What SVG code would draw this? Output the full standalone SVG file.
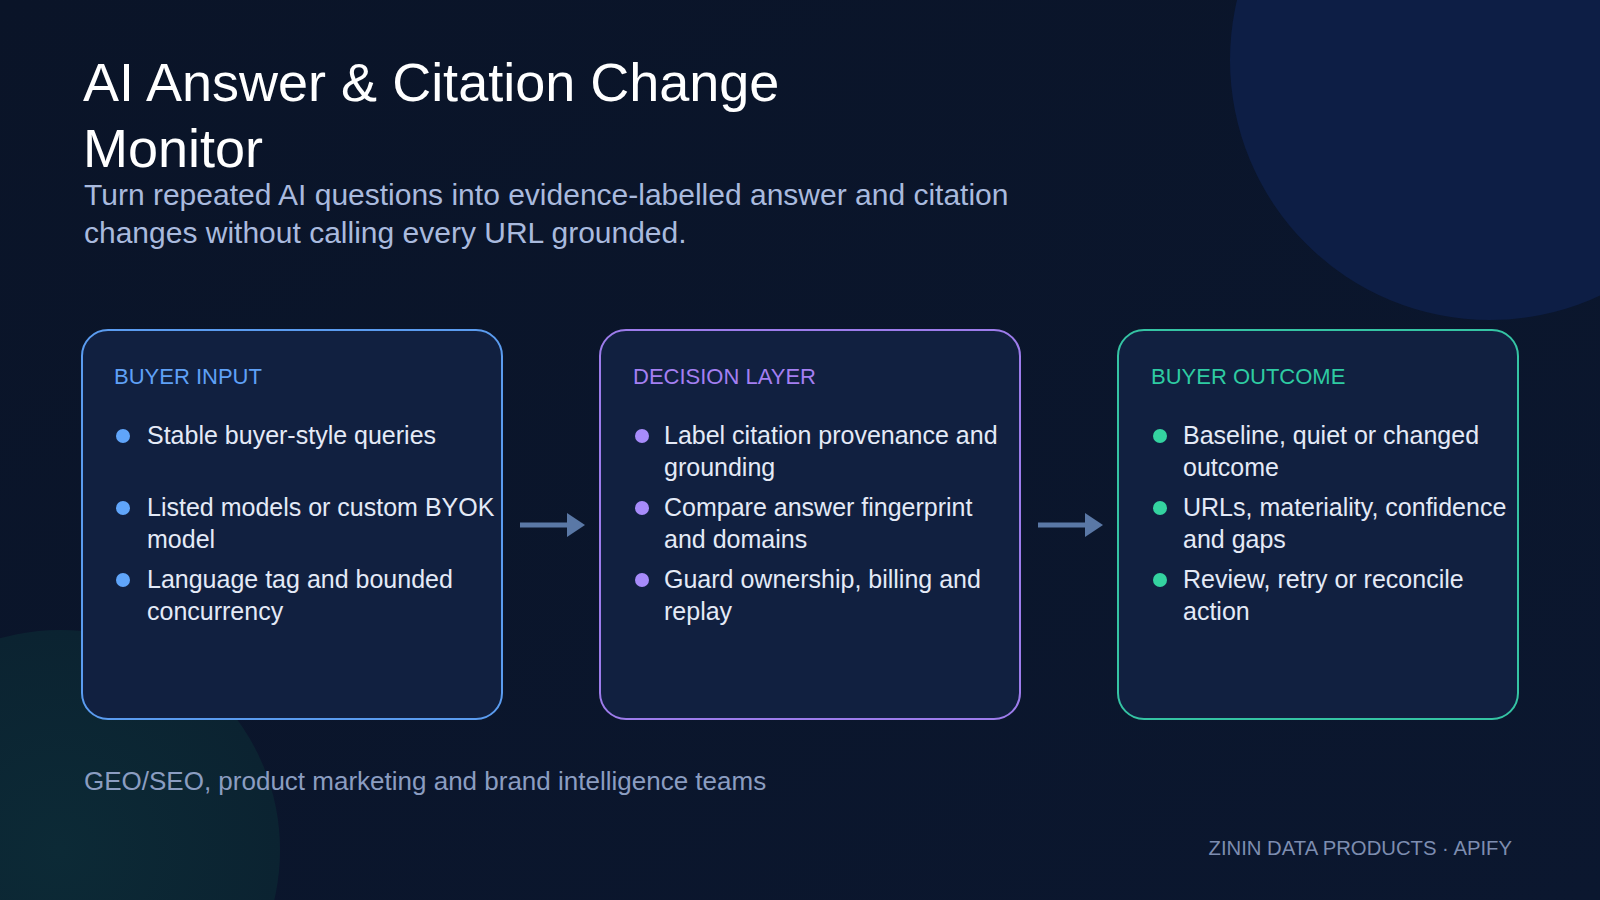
<svg xmlns="http://www.w3.org/2000/svg" width="1600" height="900" viewBox="0 0 1600 900">
  <defs>
    <linearGradient id="bg" x1="0" y1="0" x2="1" y2="1">
      <stop offset="0" stop-color="#0a1428"/>
      <stop offset="1" stop-color="#0b172f"/>
    </linearGradient>
    <radialGradient id="blTeal" cx="0.5" cy="0.5" r="0.5">
      <stop offset="0" stop-color="#0c2a36"/>
      <stop offset="1" stop-color="#0b2331"/>
    </radialGradient>
    <marker id="arrowHead" viewBox="0 0 18 24" refX="0" refY="12" markerWidth="18" markerHeight="24" markerUnits="userSpaceOnUse" orient="auto">
      <path d="M0,0 L18,12 L0,24 Z" fill="#5a78a6"/>
    </marker>
    <style>
      .title { font-family: "Liberation Sans", Arial, Helvetica, sans-serif; font-size: 54px; fill: #ffffff; }
      .subtitle { font-family: "Liberation Sans", Arial, Helvetica, sans-serif; font-size: 30px; fill: #a9bade; }
      .card { fill: #112040; stroke-width: 2; }
      .head { font-family: "Liberation Sans", Arial, Helvetica, sans-serif; font-size: 22px; }
      .item { font-family: "Liberation Sans", Arial, Helvetica, sans-serif; font-size: 25px; fill: #e4eaf7; }
      .footer { font-family: "Liberation Sans", Arial, Helvetica, sans-serif; font-size: 26px; fill: #8b9dc1; }
      .brand { font-family: "Liberation Sans", Arial, Helvetica, sans-serif; font-size: 20.3px; fill: #7d8db0; }
      .conn { stroke: #5a78a6; stroke-width: 5; fill: none; }
    </style>
  </defs>

  <rect x="0" y="0" width="1600" height="900" fill="url(#bg)"/>
  <circle cx="1490" cy="60" r="260" fill="#0d1e45"/>
  <circle cx="60" cy="850" r="220" fill="url(#blTeal)"/>

  <text class="title" x="83" y="101">AI Answer &amp; Citation Change</text>
  <text class="title" x="83" y="167">Monitor</text>
  <text class="subtitle" x="84" y="205">Turn repeated AI questions into evidence-labelled answer and citation</text>
  <text class="subtitle" x="84" y="243">changes without calling every URL grounded.</text>

  <g id="connectors">
    <line class="conn" x1="520" y1="525" x2="567" y2="525" marker-end="url(#arrowHead)"/>
    <line class="conn" x1="1038" y1="525" x2="1085" y2="525" marker-end="url(#arrowHead)"/>
  </g>

  <g id="buyer-input">
    <rect class="card" x="82" y="330" width="420" height="389" rx="26" stroke="#5b9cf0"/>
    <text class="head" x="114" y="384" fill="#5fa0f6">BUYER INPUT</text>
    <circle cx="123" cy="436" r="7" fill="#60a5fa"/>
    <text class="item" x="147" y="444">Stable buyer-style queries</text>
    <circle cx="123" cy="508" r="7" fill="#60a5fa"/>
    <text class="item" x="147" y="516">Listed models or custom BYOK</text>
    <text class="item" x="147" y="548">model</text>
    <circle cx="123" cy="580" r="7" fill="#60a5fa"/>
    <text class="item" x="147" y="588">Language tag and bounded</text>
    <text class="item" x="147" y="620">concurrency</text>
  </g>

  <g id="decision-layer">
    <rect class="card" x="600" y="330" width="420" height="389" rx="26" stroke="#9d7cec"/>
    <text class="head" x="633" y="384" fill="#a47ff2">DECISION LAYER</text>
    <circle cx="642" cy="436" r="7" fill="#a78bfa"/>
    <text class="item" x="664" y="444">Label citation provenance and</text>
    <text class="item" x="664" y="476">grounding</text>
    <circle cx="642" cy="508" r="7" fill="#a78bfa"/>
    <text class="item" x="664" y="516">Compare answer fingerprint</text>
    <text class="item" x="664" y="548">and domains</text>
    <circle cx="642" cy="580" r="7" fill="#a78bfa"/>
    <text class="item" x="664" y="588">Guard ownership, billing and</text>
    <text class="item" x="664" y="620">replay</text>
  </g>

  <g id="buyer-outcome">
    <rect class="card" x="1118" y="330" width="400" height="389" rx="26" stroke="#35c4a4"/>
    <text class="head" x="1151" y="384" fill="#2ecba2">BUYER OUTCOME</text>
    <circle cx="1160" cy="436" r="7" fill="#34d3a0"/>
    <text class="item" x="1183" y="444">Baseline, quiet or changed</text>
    <text class="item" x="1183" y="476">outcome</text>
    <circle cx="1160" cy="508" r="7" fill="#34d3a0"/>
    <text class="item" x="1183" y="516">URLs, materiality, confidence</text>
    <text class="item" x="1183" y="548">and gaps</text>
    <circle cx="1160" cy="580" r="7" fill="#34d3a0"/>
    <text class="item" x="1183" y="588">Review, retry or reconcile</text>
    <text class="item" x="1183" y="620">action</text>
  </g>

  <text class="footer" x="84" y="790">GEO/SEO, product marketing and brand intelligence teams</text>
  <text class="brand" x="1512" y="855" text-anchor="end">ZININ DATA PRODUCTS · APIFY</text>
</svg>
